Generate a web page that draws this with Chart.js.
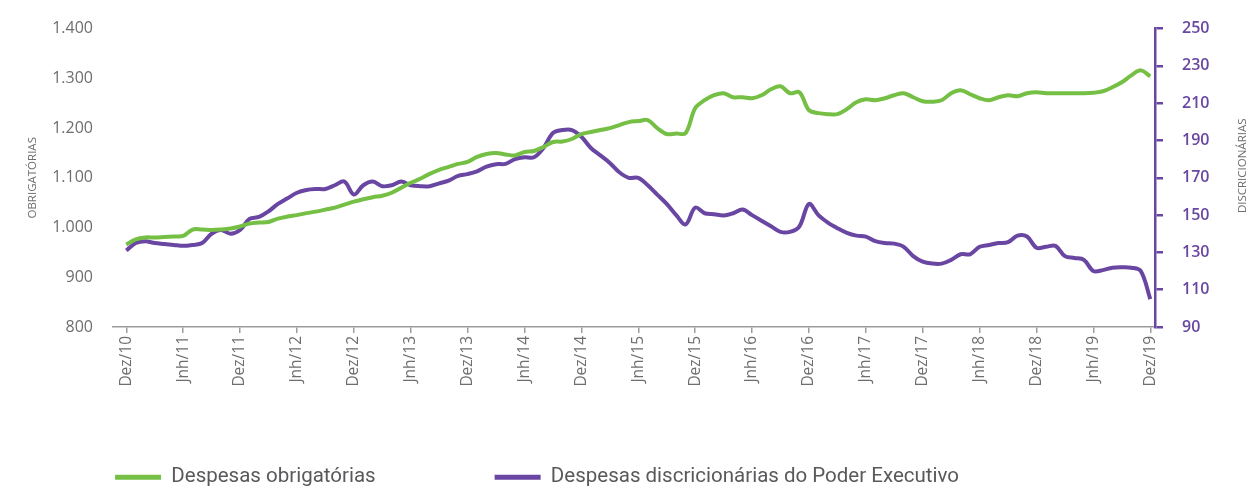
<!DOCTYPE html>
<html>
<head>
<meta charset="utf-8">
<script src="https://cdn.jsdelivr.net/npm/chart.js@4/dist/chart.umd.min.js"></script>
<style>
  html, body { margin: 0; padding: 0; background: #fff; }
  #wrap { width: 1252px; height: 488px; }
</style>
</head>
<body>
<div id="wrap"><canvas id="chart"></canvas></div>
<script>
// ticks every 6 months, Dez/10 .. Dez/19 (monthly points, 109 of them)
var tickLabels = ['Dez/10','Jnh/11','Dez/11','Jnh/12','Dez/12','Jnh/13','Dez/13','Jnh/14','Dez/14',
  'Jnh/15','Dez/15','Jnh/16','Dez/16','Jnh/17','Dez/17','Jnh/18','Dez/18','Jnh/19','Dez/19'];

var seriesNames = ['Despesas obrigatórias', 'Despesas discricionárias do Poder Executivo'];

// left axis (R$ bi)
var obrigatorias = [
  966, 976, 980, 980, 981, 982, 983, 996, 996, 995, 996, 998,
  1002, 1008, 1010, 1011, 1018, 1022, 1025, 1029, 1032, 1036, 1040, 1046,
  1052, 1057, 1061, 1064, 1070, 1080, 1090, 1098, 1108, 1116, 1122, 1128,
  1132, 1142, 1148, 1150, 1147, 1145, 1152, 1154, 1162, 1172, 1173, 1178,
  1188, 1192, 1196, 1200, 1206, 1212, 1214, 1216, 1200, 1188, 1189, 1190,
  1240, 1256, 1266, 1270, 1262, 1262, 1260, 1266, 1278, 1284, 1270, 1272,
  1236, 1230, 1228, 1228, 1238, 1252, 1258, 1256, 1260, 1266, 1270, 1262,
  1254, 1253, 1256, 1270, 1276, 1268, 1260, 1256, 1262, 1266, 1264, 1270,
  1272, 1270, 1270, 1270, 1270, 1270, 1271, 1274, 1282, 1292, 1306, 1316,
  1304
];

// right axis (R$ bi)
var discricionarias = [
  131, 135, 136, 135, 134.5, 134, 133.5, 134, 135, 140, 142, 140,
  142, 148, 149, 152, 156, 159, 162, 163.5, 164, 164, 166, 168,
  161, 166, 168, 165.5, 166, 168, 166, 165.5, 165.5, 167, 168.5, 171,
  172, 173.5, 176, 177.3, 177.5, 180, 181, 181, 186, 194, 195.6, 195.6,
  192, 186, 182, 178, 173, 170, 170, 166, 161, 156, 150, 145,
  154, 151, 150.5, 149.8, 151, 153, 150, 147, 144, 141, 141, 144,
  156, 150, 146, 143, 140.5, 139, 138.5, 136, 135, 134.7, 133, 128,
  125, 124, 124, 126, 129, 129, 133, 134, 135, 135.5, 139, 138.5,
  132.5, 133, 133.5, 128, 127, 126, 120, 120.5, 121.8, 122, 121.8, 120,
  105
];

var GREEN = '#74bf44';
var PURPLE = '#6a46a3';
var GRAY = '#6d6e70';
var FONT = '"Open Sans", "Noto Sans", sans-serif';

function toPoints(arr) {
  return arr.map(function (v, i) { return { x: i, y: v }; });
}

// right axis title reads bottom-to-top like the left one
var rightTitle = {
  id: 'rightTitle',
  afterDraw: function (chart) {
    var s = chart.scales.y1;
    var ctx = chart.ctx;
    ctx.save();
    ctx.translate(s.right - 9, (s.top + s.bottom) / 2 - 12);
    ctx.rotate(-Math.PI / 2);
    ctx.font = '11.5px ' + FONT;
    ctx.fillStyle = GRAY;
    ctx.textAlign = 'center';
    ctx.textBaseline = 'middle';
    ctx.fillText('DISCRICIONÁRIAS', 0, 0);
    ctx.restore();
  }
};

new Chart(document.getElementById('chart'), {
  type: 'line',
  data: {
    datasets: [{
      label: seriesNames[0],
      data: toPoints(obrigatorias),
      borderColor: GREEN,
      backgroundColor: GREEN,
      borderWidth: 4,
      pointRadius: 0,
      tension: 0.35,
      yAxisID: 'y'
    }, {
      label: seriesNames[1],
      data: toPoints(discricionarias),
      borderColor: PURPLE,
      backgroundColor: PURPLE,
      borderWidth: 4,
      pointRadius: 0,
      tension: 0.35,
      yAxisID: 'y1'
    }]
  },
  options: {
    responsive: true,
    maintainAspectRatio: false,
    animation: false,
    layout: { padding: { top: 25, left: 0, right: 0, bottom: 0 } },
    plugins: {
      tooltip: { enabled: false },
      legend: {
        position: 'bottom',
        maxHeight: 23,
        labels: {
          boxWidth: 46,
          boxHeight: 5,
          padding: 2,
          color: '#58595b',
          font: { family: '"Roboto", sans-serif', size: 20.5 },
          generateLabels: function (chart) {
            var items = Chart.defaults.plugins.legend.labels.generateLabels(chart);
            items.forEach(function (it, k) {
              it.lineWidth = 0;
              it.text = it.text + (k === 0 ? '\u00a0'.repeat(23) : '\u00a0'.repeat(35));
            });
            return items;
          }
        }
      }
    },
    scales: {
      x: {
        type: 'linear',
        min: -1.4,
        max: 108.5,
        afterBuildTicks: function (scale) {
          scale.ticks = tickLabels.map(function (_, k) { return { value: k * 6 }; });
        },
        afterFit: function (scale) { scale.height = 138; },
        border: { display: true, color: '#9d9d9d', width: 1.5 },
        grid: { drawOnChartArea: false, drawTicks: true, tickLength: 6, color: '#9d9d9d', lineWidth: 1.5 },
        ticks: {
          autoSkip: false,
          minRotation: 90,
          maxRotation: 90,
          padding: 3,
          color: GRAY,
          font: { family: FONT, size: 15.5 },
          callback: function (v) { return tickLabels[Math.round(v / 6)]; }
        }
      },
      y: {
        position: 'left',
        min: 800,
        max: 1400,
        afterFit: function (scale) { scale.width = 113; },
        border: { display: false },
        grid: { display: false },
        ticks: {
          stepSize: 100,
          padding: 12,
          color: GRAY,
          font: { family: FONT, size: 16 },
          callback: function (v) { return v.toLocaleString('pt-BR'); }
        },
        title: {
          display: true,
          text: 'OBRIGATÓRIAS',
          color: GRAY,
          font: { family: FONT, size: 11.5 },
          padding: { top: 26, bottom: 0 }
        }
      },
      y1: {
        position: 'right',
        min: 90,
        max: 250,
        afterFit: function (scale) { scale.width = 97; },
        border: { display: true, color: PURPLE, width: 2.5 },
        grid: { drawOnChartArea: false, drawTicks: true, tickLength: 8, color: PURPLE, lineWidth: 2.5 },
        ticks: {
          stepSize: 20,
          padding: 19,
          color: PURPLE,
          font: { family: FONT, size: 16, weight: '600' }
        }
      }
    }
  },
  plugins: [rightTitle]
});
</script>
</body>
</html>
